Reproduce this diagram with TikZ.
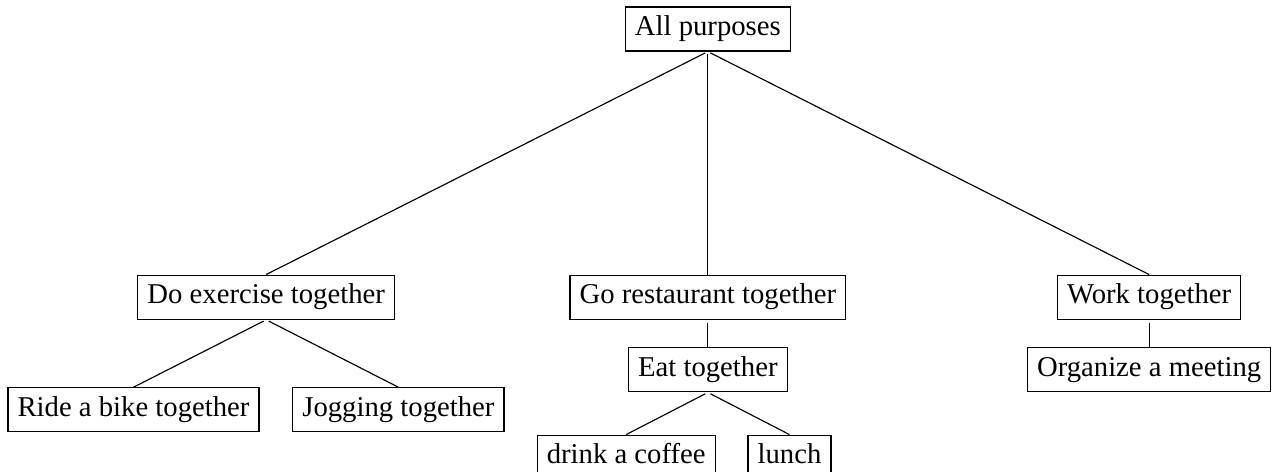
\documentclass[tikz,border=0pt]{standalone}
\usepackage{fontspec}
\setmainfont{Liberation Serif}
\begin{document}
\begin{tikzpicture}[line width=0.4pt,box/.style={draw,inner sep=0.3333em,text height=0.66em,text depth=0.21em},link/.style={shorten <=1pt}]
  \useasboundingbox (0,0) rectangle (15.58,-5.78);
  % raiz
  \node[box] (all) at (8.67,-0.355) {All purposes};
  % primer nivel
  \node[box] (exer) at (3.26,-3.64) {Do exercise together};
  \node[box] (rest) at (8.67,-3.64) {Go restaurant together};
  \node[box] (work) at (14.075,-3.64) {Work together};
  % segundo nivel
  \node[box] (bike) at (1.635,-5.02) {Ride a bike together};
  \node[box] (jog) at (4.88,-5.02) {Jogging together};
  \node[box] (eat) at (8.67,-4.53) {Eat together};
  \node[box] (meet) at (14.075,-4.53) {Organize a meeting};
  % tercer nivel
  \node[box] (coffee) at (7.67,-5.60) {drink a coffee};
  \node[box] (lunch) at (9.67,-5.60) {lunch};
  % enlaces padre -> hijo
  \foreach \p/\c in {all/exer,all/rest,all/work,exer/bike,exer/jog,rest/eat,eat/coffee,eat/lunch,work/meet} \draw[link] (\p.south) -- (\c.north);
\end{tikzpicture}
\end{document}
